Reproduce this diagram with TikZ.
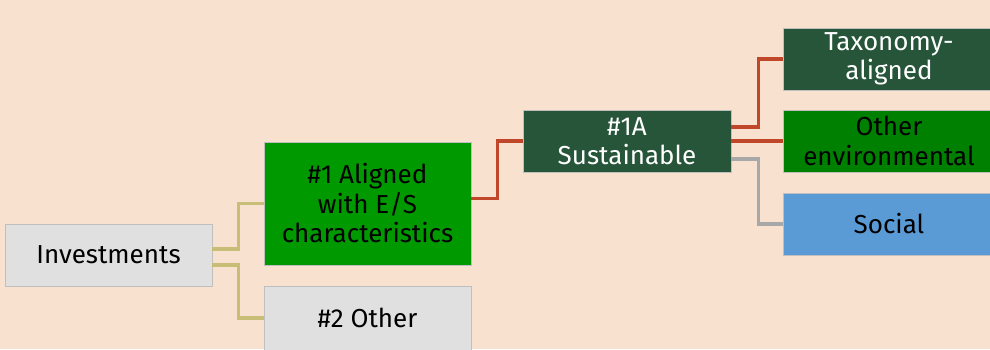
\documentclass[tikz,border=0pt]{standalone}
\usepackage{fontspec}
\setmainfont{Fira Sans}
\definecolor{peach}{HTML}{F8E1CF}
\definecolor{boxgrey}{HTML}{E0E0E0}
\definecolor{brightgreen}{HTML}{009900}
\definecolor{darkgreen}{HTML}{26553A}
\definecolor{envgreen}{HTML}{008000}
\definecolor{socialblue}{HTML}{5B9BD5}
\definecolor{khaki}{HTML}{C8BE78}
\definecolor{rust}{HTML}{C0472A}
\definecolor{linegrey}{HTML}{A8A8A8}
\begin{document}
\begin{tikzpicture}[x=1pt, y=-1pt,
    box/.style = {draw=black!25, line width=0.8pt, minimum width=207pt, minimum height=62pt,
        align=center, inner sep=2pt, font=\fontsize{26}{29.5}\selectfont},
    link/.style = {line width=3.5pt}]
        \useasboundingbox[fill=peach] (0,0) rectangle (990,349);

        \node (Investments) [box, fill=boxgrey] at (108.5,255) {Investments};
        \node (Aligned) [box, fill=brightgreen, minimum height=123pt] at (367.5,203.5) {\#1 Aligned\\with E/S\\characteristics};
        \node (Other) [box, fill=boxgrey, minimum height=64pt] at (367.5,318) {\#2 Other};
        \node (Sustainable) [box, fill=darkgreen, text=white, minimum width=208pt] at (627,141) {\#1A\\Sustainable};
        \node (Taxonomy) [box, fill=darkgreen, text=white, minimum width=212pt] at (889,59) {Taxonomy-\\aligned};
        \node (Environmental) [box, fill=envgreen, minimum width=212pt] at (889,141) {Other\\environmental};
        \node (Social) [box, fill=socialblue, minimum width=212pt] at (889,224) {Social};

        \draw[link, khaki] ([yshift=6pt]Investments.east) -- ++(26,0) |- (Aligned.west);
        \draw[link, khaki] ([yshift=-10pt]Investments.east) -- ++(26,0) |- (Other.west);
        \draw[link, rust] ([yshift=5pt]Aligned.east) -- ++(26,0) |- (Sustainable.west);
        \draw[link, rust] ([yshift=14pt]Sustainable.east) -- ++(27,0) |- (Taxonomy.west);
        \draw[link, rust] (Sustainable.east) -- (Environmental.west);
        \draw[link, linegrey] ([yshift=-18pt]Sustainable.east) -- ++(27,0) |- (Social.west);
\end{tikzpicture}
\end{document}
